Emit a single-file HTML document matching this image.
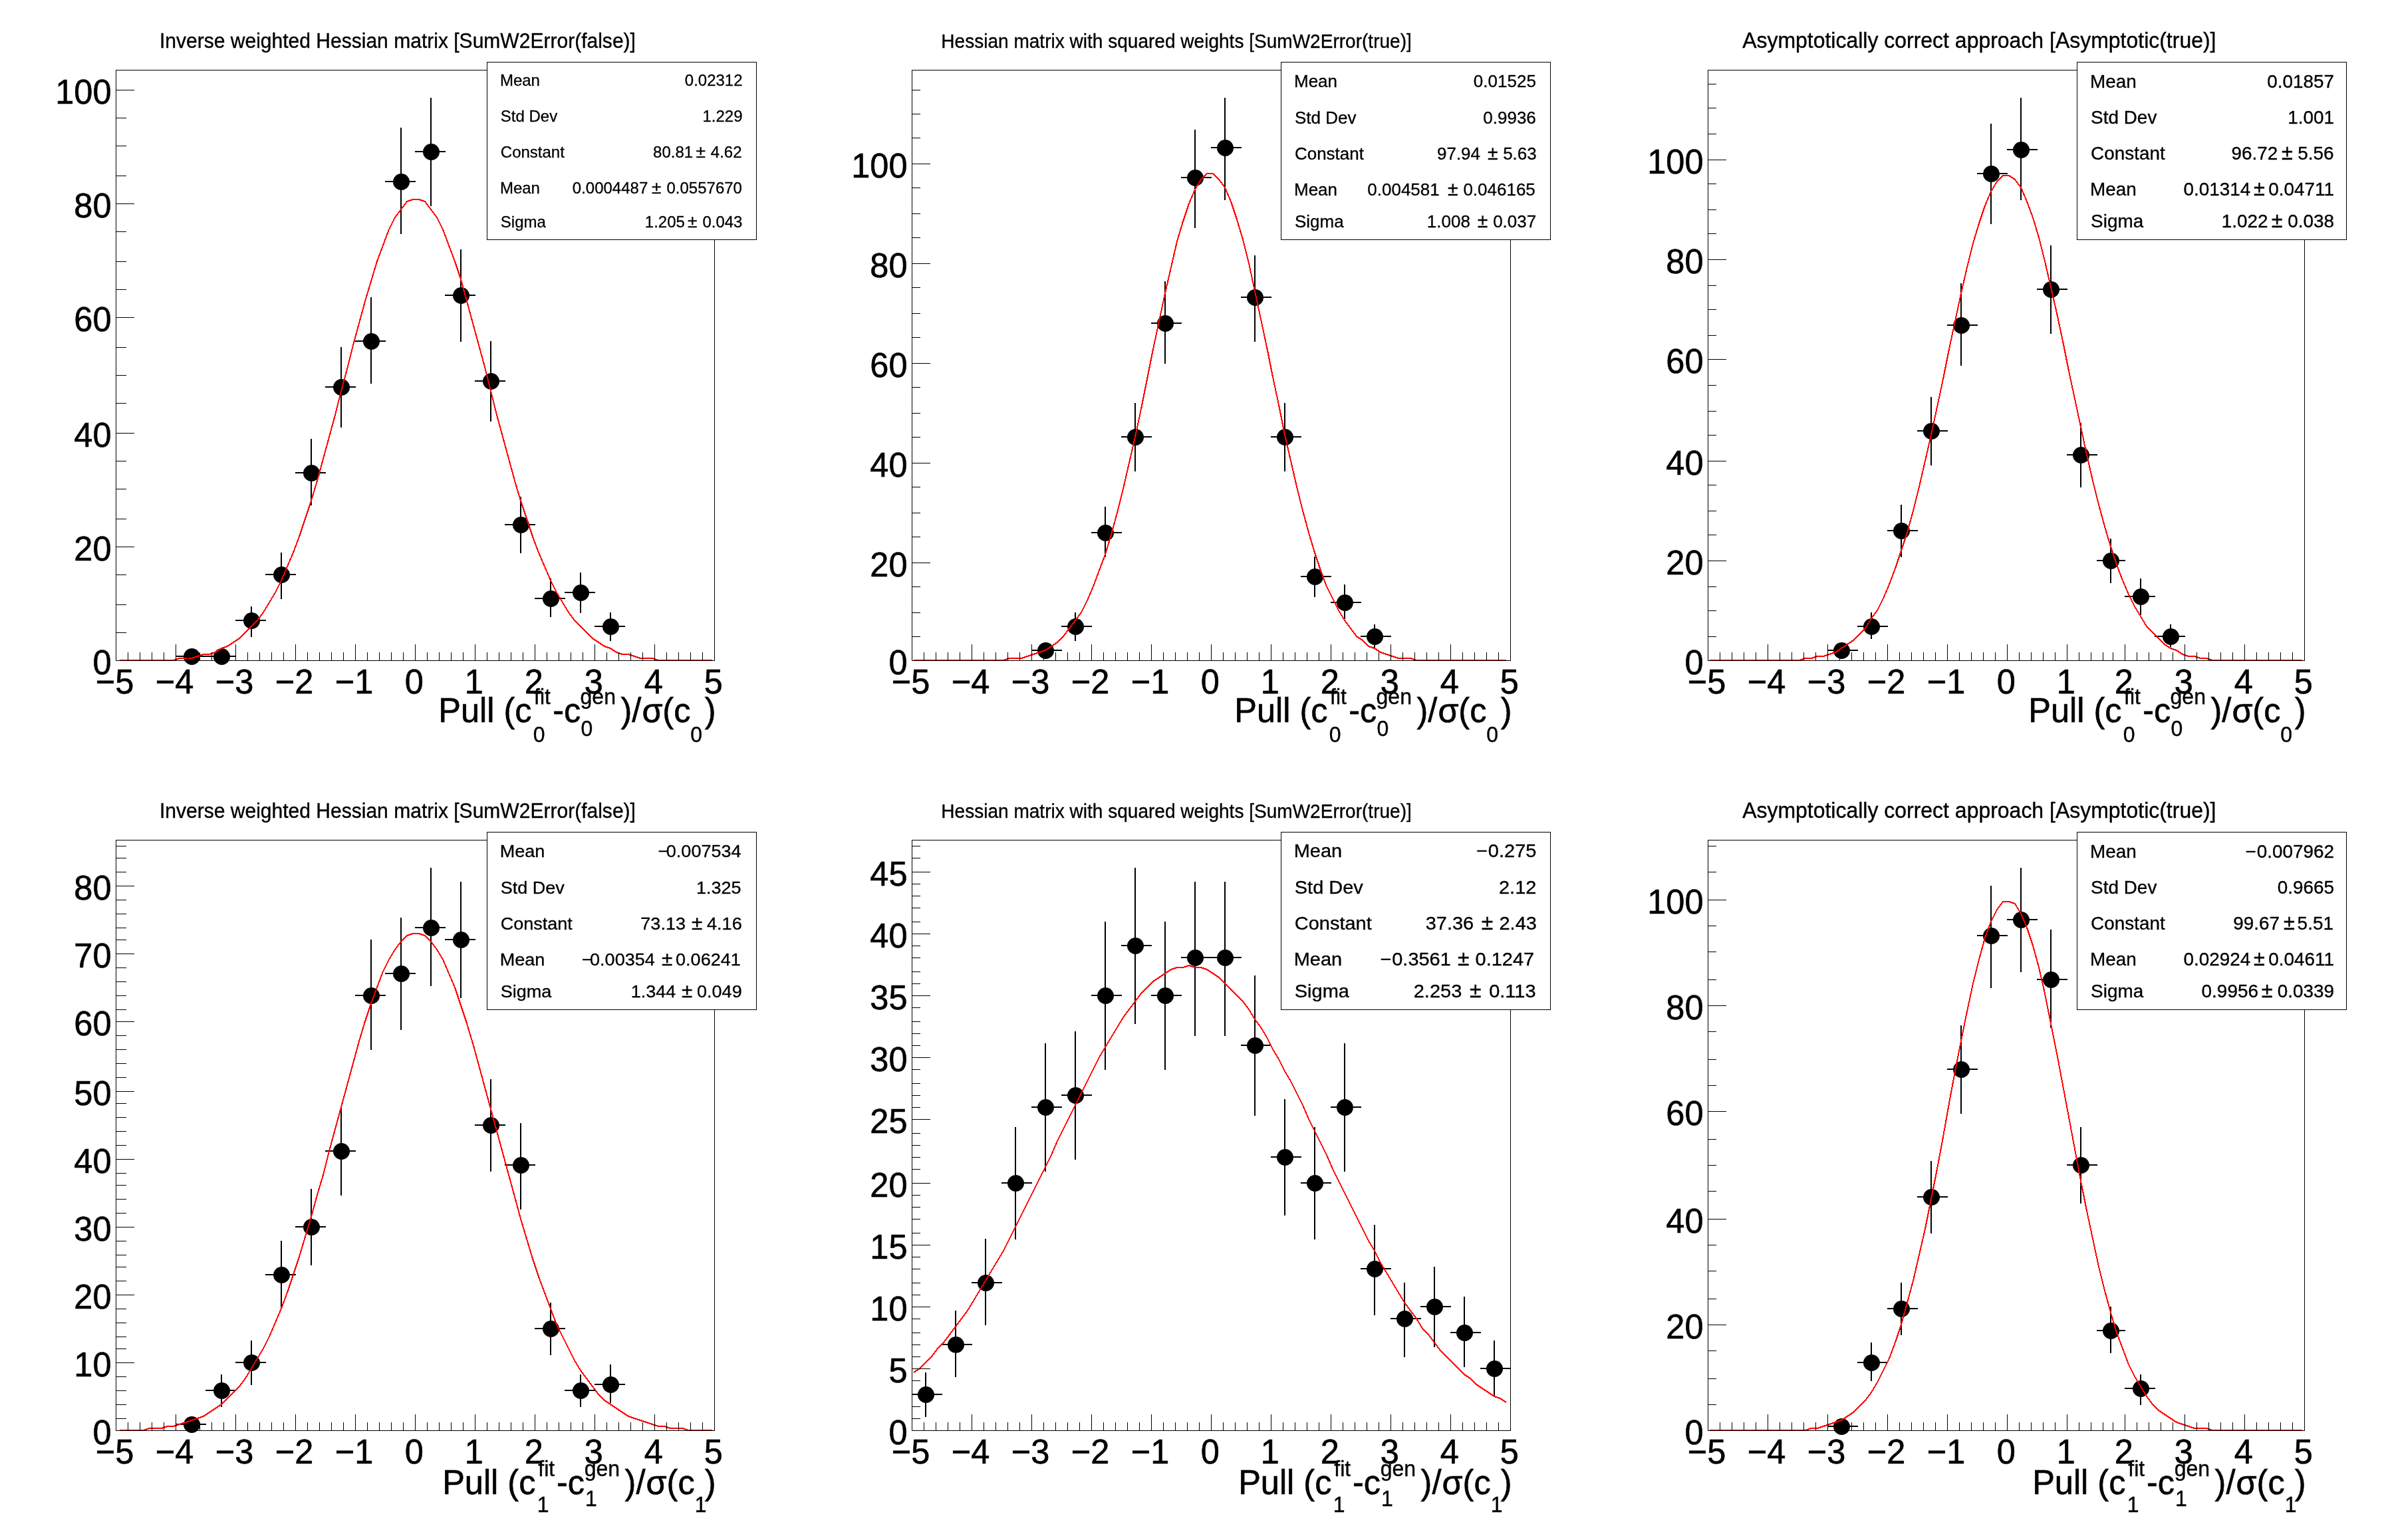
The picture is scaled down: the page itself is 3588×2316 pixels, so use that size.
<!DOCTYPE html>
<html><head><meta charset="utf-8"><title>Pull distributions</title>
<style>
html,body{margin:0;padding:0;background:#fff;}
body{width:3588px;height:2316px;overflow:hidden;}
svg{display:block;will-change:transform;transform:translateZ(0);}
text{font-family:"Liberation Sans", sans-serif;fill:#000;stroke:#000;}
</style></head><body>
<svg xmlns="http://www.w3.org/2000/svg" width="3588" height="2316" viewBox="0 0 3588 2316">
<rect width="3588" height="2316" fill="#fff"/>
<g>
<text transform="translate(172.5 1043.4) scale(1 1.04)" font-size="50.5" stroke-width="0.61" text-anchor="middle">−5</text>
<text transform="translate(262.5 1043.4) scale(1 1.04)" font-size="50.5" stroke-width="0.61" text-anchor="middle">−4</text>
<text transform="translate(352.5 1043.4) scale(1 1.04)" font-size="50.5" stroke-width="0.61" text-anchor="middle">−3</text>
<text transform="translate(442.5 1043.4) scale(1 1.04)" font-size="50.5" stroke-width="0.61" text-anchor="middle">−2</text>
<text transform="translate(532.5 1043.4) scale(1 1.04)" font-size="50.5" stroke-width="0.61" text-anchor="middle">−1</text>
<text transform="translate(622.8 1043.4) scale(1 1.04)" font-size="50.5" stroke-width="0.61" text-anchor="middle">0</text>
<text transform="translate(712.8 1043.4) scale(1 1.04)" font-size="50.5" stroke-width="0.61" text-anchor="middle">1</text>
<text transform="translate(802.8 1043.4) scale(1 1.04)" font-size="50.5" stroke-width="0.61" text-anchor="middle">2</text>
<text transform="translate(892.8 1043.4) scale(1 1.04)" font-size="50.5" stroke-width="0.61" text-anchor="middle">3</text>
<text transform="translate(982.8 1043.4) scale(1 1.04)" font-size="50.5" stroke-width="0.61" text-anchor="middle">4</text>
<text transform="translate(1072.8 1043.4) scale(1 1.04)" font-size="50.5" stroke-width="0.61" text-anchor="middle">5</text>
<text transform="translate(167.5 1014.1) scale(1 1.04)" font-size="50.5" stroke-width="0.61" text-anchor="end">0</text>
<text transform="translate(167.5 843.1) scale(1 1.04)" font-size="50.5" stroke-width="0.61" text-anchor="end">20</text>
<text transform="translate(167.5 672.1) scale(1 1.04)" font-size="50.5" stroke-width="0.61" text-anchor="end">40</text>
<text transform="translate(167.5 498.1) scale(1 1.04)" font-size="50.5" stroke-width="0.61" text-anchor="end">60</text>
<text transform="translate(167.5 327.1) scale(1 1.04)" font-size="50.5" stroke-width="0.61" text-anchor="end">80</text>
<text transform="translate(167.5 156.1) scale(1 1.04)" font-size="50.5" stroke-width="0.61" text-anchor="end">100</text>
<text transform="translate(659.36 1085.6) scale(1 1.04)" font-size="50.5" stroke-width="0.61">Pull (c</text>
<text transform="translate(803.05 1058.7) scale(1 1.04)" font-size="32" stroke-width="0.38">fit</text>
<text transform="translate(801.65 1115.6) scale(1 1.04)" font-size="32" stroke-width="0.38">0</text>
<text transform="translate(831.13 1085.6) scale(1 1.04)" font-size="50.5" stroke-width="0.61">-c</text>
<text transform="translate(872.56 1058.7) scale(1 1.04)" font-size="32" stroke-width="0.38">gen</text>
<text transform="translate(873.55 1106.9) scale(1 1.04)" font-size="32" stroke-width="0.38">0</text>
<text transform="translate(933.49 1085.6) scale(1 1.04)" font-size="50.5" stroke-width="0.61">)/</text>
<text transform="translate(965.58 1085.6) scale(1 1.04)" font-size="50.5" stroke-width="0.61">σ</text>
<text transform="translate(996.37 1085.6) scale(1 1.04)" font-size="50.5" stroke-width="0.61">(c</text>
<text transform="translate(1038.25 1115.6) scale(1 1.04)" font-size="32" stroke-width="0.38">0</text>
<text transform="translate(1059.68 1085.6) scale(1 1.04)" font-size="50.5" stroke-width="0.61">)</text>
<text transform="translate(239.9 71.9) scale(1 1.04)" font-size="30.05" stroke-width="0.36">Inverse weighted Hessian matrix [SumW2Error(false)]</text>
<path d="M264 987H310M288 978V994M309 987H355M333 978V994M354 933H400M378 912V958M399 864H445M423 831V901M444 711H490M468 660V760M489 582H535M513 522V643M534 513H580M558 447V577M579 273H625M603 192V352M624 228H670M648 147V310M669 444H715M693 375V514M714 573H760M738 513V634M759 789H805M783 747V832M804 900H850M828 870V928M849 891H895M873 861V922M894 942H940M918 921V964" stroke="#000" stroke-width="2" fill="none"/>
<circle cx="288.5" cy="987.5" r="12.5"/>
<circle cx="333.5" cy="987.5" r="12.5"/>
<circle cx="378.5" cy="933.5" r="12.5"/>
<circle cx="423.5" cy="864.5" r="12.5"/>
<circle cx="468.5" cy="711.5" r="12.5"/>
<circle cx="513.5" cy="582.5" r="12.5"/>
<circle cx="558.5" cy="513.5" r="12.5"/>
<circle cx="603.5" cy="273.5" r="12.5"/>
<circle cx="648.5" cy="228.5" r="12.5"/>
<circle cx="693.5" cy="444.5" r="12.5"/>
<circle cx="738.5" cy="573.5" r="12.5"/>
<circle cx="783.5" cy="789.5" r="12.5"/>
<circle cx="828.5" cy="900.5" r="12.5"/>
<circle cx="873.5" cy="891.5" r="12.5"/>
<circle cx="918.5" cy="942.5" r="12.5"/>
<polyline points="180,993 189,993 198,993 207,993 216,993 225,993 234,993 243,993 252,993 261,993 270,990 279,990 288,990 297,987 306,984 315,984 324,981 333,975 342,972 351,966 360,960 369,951 378,942 387,933 396,921 405,906 414,891 423,873 432,852 441,831 450,807 459,780 468,753 477,723 486,690 495,657 504,624 513,588 522,555 531,519 540,486 549,453 558,423 567,393 576,369 585,345 594,327 603,315 612,303 621,300 630,300 639,303 648,315 657,327 666,345 675,369 684,393 693,420 702,453 711,486 720,519 729,552 738,588 747,624 756,657 765,690 774,723 783,753 792,780 801,807 810,831 819,852 828,873 837,891 846,906 855,921 864,933 873,942 882,951 891,960 900,966 909,972 918,975 927,981 936,984 945,984 954,987 963,990 972,990 981,990 990,993 999,993 1008,993 1017,993 1026,993 1035,993 1044,993 1053,993 1062,993 1071,993" fill="none" stroke="#f00" stroke-width="2" stroke-linejoin="round" shape-rendering="crispEdges"/>
<rect x="174.5" y="105.5" width="900" height="888" fill="none" stroke="#000" stroke-width="1"/>
<path d="M174.5 969V994M192.5 981V994M210.5 981V994M228.5 981V994M246.5 981V994M264.5 969V994M282.5 981V994M300.5 981V994M318.5 981V994M336.5 981V994M354.5 969V994M372.5 981V994M390.5 981V994M408.5 981V994M426.5 981V994M444.5 969V994M462.5 981V994M480.5 981V994M498.5 981V994M516.5 981V994M534.5 969V994M552.5 981V994M570.5 981V994M588.5 981V994M606.5 981V994M624.5 969V994M642.5 981V994M660.5 981V994M678.5 981V994M696.5 981V994M714.5 969V994M732.5 981V994M750.5 981V994M768.5 981V994M786.5 981V994M804.5 969V994M822.5 981V994M840.5 981V994M858.5 981V994M876.5 981V994M894.5 969V994M912.5 981V994M930.5 981V994M948.5 981V994M966.5 981V994M984.5 969V994M1002.5 981V994M1020.5 981V994M1038.5 981V994M1056.5 981V994M1074.5 969V994" stroke="#000" stroke-width="1" fill="none"/>
<path d="M174 993.5H202M174 951.5H190M174 909.5H190M174 864.5H190M174 822.5H202M174 780.5H190M174 735.5H190M174 693.5H190M174 651.5H202M174 606.5H190M174 564.5H190M174 522.5H190M174 477.5H202M174 435.5H190M174 393.5H190M174 348.5H190M174 306.5H202M174 264.5H190M174 219.5H190M174 177.5H190M174 135.5H202" stroke="#000" stroke-width="1" fill="none"/>
<rect x="732.5" y="93.5" width="405" height="267" fill="#fff" stroke="#000" stroke-width="1"/>
<text transform="translate(751.93 129) scale(1 1.0)" font-size="24" stroke-width="0.29">Mean</text>
<text transform="translate(1116.56 129) scale(1 1.0)" font-size="24" stroke-width="0.29" text-anchor="end">0.02312</text>
<text transform="translate(752.8 182.7) scale(1 1.0)" font-size="24" stroke-width="0.29">Std Dev</text>
<text transform="translate(1116.56 182.7) scale(1 1.0)" font-size="24" stroke-width="0.29" text-anchor="end">1.229</text>
<text transform="translate(752.8 236.7) scale(1 1.0)" font-size="24" stroke-width="0.29">Constant</text>
<text transform="translate(1042.16 236.7) scale(1 1.0)" font-size="24" stroke-width="0.29" text-anchor="end">80.81</text>
<text transform="translate(1053.7 236.7) scale(1 1.0)" font-size="26.4" stroke-width="0.32" text-anchor="middle">±</text>
<text transform="translate(1115.56 236.7) scale(1 1.0)" font-size="24" stroke-width="0.29" text-anchor="end">4.62</text>
<text transform="translate(751.93 291) scale(1 1.0)" font-size="24" stroke-width="0.29">Mean</text>
<text transform="translate(974.26 291) scale(1 1.0)" font-size="24" stroke-width="0.29" text-anchor="end">0.0004487</text>
<text transform="translate(987.2 291) scale(1 1.0)" font-size="26.4" stroke-width="0.32" text-anchor="middle">±</text>
<text transform="translate(1115.96 291) scale(1 1.0)" font-size="24" stroke-width="0.29" text-anchor="end">0.0557670</text>
<text transform="translate(752.8 341.8) scale(1 1.0)" font-size="24" stroke-width="0.29">Sigma</text>
<text transform="translate(1029.86 341.8) scale(1 1.0)" font-size="24" stroke-width="0.29" text-anchor="end">1.205</text>
<text transform="translate(1041.3 341.8) scale(1 1.0)" font-size="26.4" stroke-width="0.32" text-anchor="middle">±</text>
<text transform="translate(1116.46 341.8) scale(1 1.0)" font-size="24" stroke-width="0.29" text-anchor="end">0.043</text>
</g>
<g>
<text transform="translate(1369.5 1043.4) scale(1 1.04)" font-size="50.5" stroke-width="0.61" text-anchor="middle">−5</text>
<text transform="translate(1459.5 1043.4) scale(1 1.04)" font-size="50.5" stroke-width="0.61" text-anchor="middle">−4</text>
<text transform="translate(1549.5 1043.4) scale(1 1.04)" font-size="50.5" stroke-width="0.61" text-anchor="middle">−3</text>
<text transform="translate(1639.5 1043.4) scale(1 1.04)" font-size="50.5" stroke-width="0.61" text-anchor="middle">−2</text>
<text transform="translate(1729.5 1043.4) scale(1 1.04)" font-size="50.5" stroke-width="0.61" text-anchor="middle">−1</text>
<text transform="translate(1819.8 1043.4) scale(1 1.04)" font-size="50.5" stroke-width="0.61" text-anchor="middle">0</text>
<text transform="translate(1909.8 1043.4) scale(1 1.04)" font-size="50.5" stroke-width="0.61" text-anchor="middle">1</text>
<text transform="translate(1999.8 1043.4) scale(1 1.04)" font-size="50.5" stroke-width="0.61" text-anchor="middle">2</text>
<text transform="translate(2089.8 1043.4) scale(1 1.04)" font-size="50.5" stroke-width="0.61" text-anchor="middle">3</text>
<text transform="translate(2179.8 1043.4) scale(1 1.04)" font-size="50.5" stroke-width="0.61" text-anchor="middle">4</text>
<text transform="translate(2269.8 1043.4) scale(1 1.04)" font-size="50.5" stroke-width="0.61" text-anchor="middle">5</text>
<text transform="translate(1364.5 1014.1) scale(1 1.04)" font-size="50.5" stroke-width="0.61" text-anchor="end">0</text>
<text transform="translate(1364.5 867.1) scale(1 1.04)" font-size="50.5" stroke-width="0.61" text-anchor="end">20</text>
<text transform="translate(1364.5 717.1) scale(1 1.04)" font-size="50.5" stroke-width="0.61" text-anchor="end">40</text>
<text transform="translate(1364.5 567.1) scale(1 1.04)" font-size="50.5" stroke-width="0.61" text-anchor="end">60</text>
<text transform="translate(1364.5 417.1) scale(1 1.04)" font-size="50.5" stroke-width="0.61" text-anchor="end">80</text>
<text transform="translate(1364.5 267.1) scale(1 1.04)" font-size="50.5" stroke-width="0.61" text-anchor="end">100</text>
<text transform="translate(1856.36 1085.6) scale(1 1.04)" font-size="50.5" stroke-width="0.61">Pull (c</text>
<text transform="translate(2000.05 1058.7) scale(1 1.04)" font-size="32" stroke-width="0.38">fit</text>
<text transform="translate(1998.65 1115.6) scale(1 1.04)" font-size="32" stroke-width="0.38">0</text>
<text transform="translate(2028.13 1085.6) scale(1 1.04)" font-size="50.5" stroke-width="0.61">-c</text>
<text transform="translate(2069.56 1058.7) scale(1 1.04)" font-size="32" stroke-width="0.38">gen</text>
<text transform="translate(2070.55 1106.9) scale(1 1.04)" font-size="32" stroke-width="0.38">0</text>
<text transform="translate(2130.49 1085.6) scale(1 1.04)" font-size="50.5" stroke-width="0.61">)/</text>
<text transform="translate(2162.58 1085.6) scale(1 1.04)" font-size="50.5" stroke-width="0.61">σ</text>
<text transform="translate(2193.37 1085.6) scale(1 1.04)" font-size="50.5" stroke-width="0.61">(c</text>
<text transform="translate(2235.25 1115.6) scale(1 1.04)" font-size="32" stroke-width="0.38">0</text>
<text transform="translate(2256.68 1085.6) scale(1 1.04)" font-size="50.5" stroke-width="0.61">)</text>
<text transform="translate(1415.3 71.9) scale(1 1.04)" font-size="28.05" stroke-width="0.34">Hessian matrix with squared weights [SumW2Error(true)]</text>
<path d="M1551 978H1597M1572 969V991M1596 942H1642M1617 921V964M1641 801H1687M1662 762V838M1686 657H1732M1707 606V709M1731 486H1777M1752 423V547M1776 267H1822M1797 195V343M1821 222H1867M1842 147V301M1866 447H1912M1887 384V514M1911 657H1957M1932 606V709M1956 867H2002M1977 837V898M2001 906H2047M2022 879V931M2046 957H2092M2067 939V976" stroke="#000" stroke-width="2" fill="none"/>
<circle cx="1572.5" cy="978.5" r="12.5"/>
<circle cx="1617.5" cy="942.5" r="12.5"/>
<circle cx="1662.5" cy="801.5" r="12.5"/>
<circle cx="1707.5" cy="657.5" r="12.5"/>
<circle cx="1752.5" cy="486.5" r="12.5"/>
<circle cx="1797.5" cy="267.5" r="12.5"/>
<circle cx="1842.5" cy="222.5" r="12.5"/>
<circle cx="1887.5" cy="447.5" r="12.5"/>
<circle cx="1932.5" cy="657.5" r="12.5"/>
<circle cx="1977.5" cy="867.5" r="12.5"/>
<circle cx="2022.5" cy="906.5" r="12.5"/>
<circle cx="2067.5" cy="957.5" r="12.5"/>
<polyline points="1374,993 1383,993 1392,993 1401,993 1410,993 1419,993 1428,993 1437,993 1446,993 1455,993 1464,993 1473,993 1482,993 1491,993 1500,993 1509,993 1518,990 1527,990 1536,990 1545,987 1554,984 1563,981 1572,978 1581,972 1590,966 1599,957 1608,945 1617,933 1626,921 1635,903 1644,882 1653,858 1662,834 1671,804 1680,771 1689,735 1698,696 1707,657 1716,615 1725,570 1734,525 1743,483 1752,441 1761,402 1770,363 1779,333 1788,306 1797,285 1806,270 1815,261 1824,261 1833,270 1842,282 1851,303 1860,330 1869,360 1878,396 1887,438 1896,480 1905,522 1914,567 1923,609 1932,654 1941,693 1950,732 1959,768 1968,801 1977,831 1986,858 1995,882 2004,900 2013,918 2022,933 2031,945 2040,957 2049,963 2058,972 2067,975 2076,981 2085,984 2094,987 2103,990 2112,990 2121,990 2130,993 2139,993 2148,993 2157,993 2166,993 2175,993 2184,993 2193,993 2202,993 2211,993 2220,993 2229,993 2238,993 2247,993 2256,993 2265,993" fill="none" stroke="#f00" stroke-width="2" stroke-linejoin="round" shape-rendering="crispEdges"/>
<rect x="1371.5" y="105.5" width="900" height="888" fill="none" stroke="#000" stroke-width="1"/>
<path d="M1371.5 969V994M1389.5 981V994M1407.5 981V994M1425.5 981V994M1443.5 981V994M1461.5 969V994M1479.5 981V994M1497.5 981V994M1515.5 981V994M1533.5 981V994M1551.5 969V994M1569.5 981V994M1587.5 981V994M1605.5 981V994M1623.5 981V994M1641.5 969V994M1659.5 981V994M1677.5 981V994M1695.5 981V994M1713.5 981V994M1731.5 969V994M1749.5 981V994M1767.5 981V994M1785.5 981V994M1803.5 981V994M1821.5 969V994M1839.5 981V994M1857.5 981V994M1875.5 981V994M1893.5 981V994M1911.5 969V994M1929.5 981V994M1947.5 981V994M1965.5 981V994M1983.5 981V994M2001.5 969V994M2019.5 981V994M2037.5 981V994M2055.5 981V994M2073.5 981V994M2091.5 969V994M2109.5 981V994M2127.5 981V994M2145.5 981V994M2163.5 981V994M2181.5 969V994M2199.5 981V994M2217.5 981V994M2235.5 981V994M2253.5 981V994M2271.5 969V994" stroke="#000" stroke-width="1" fill="none"/>
<path d="M1371 993.5H1399M1371 957.5H1384M1371 921.5H1384M1371 882.5H1384M1371 846.5H1399M1371 807.5H1384M1371 771.5H1384M1371 732.5H1384M1371 696.5H1399M1371 657.5H1384M1371 621.5H1384M1371 582.5H1384M1371 546.5H1399M1371 507.5H1384M1371 471.5H1384M1371 432.5H1384M1371 396.5H1399M1371 357.5H1384M1371 321.5H1384M1371 282.5H1384M1371 246.5H1399M1371 207.5H1384M1371 171.5H1384M1371 135.5H1384" stroke="#000" stroke-width="1" fill="none"/>
<rect x="1926.5" y="93.5" width="405" height="267" fill="#fff" stroke="#000" stroke-width="1"/>
<text transform="translate(1945.97 131.2) scale(1 1.0)" font-size="26" stroke-width="0.31">Mean</text>
<text transform="translate(2309.84 131.2) scale(1 1.0)" font-size="26" stroke-width="0.31" text-anchor="end">0.01525</text>
<text transform="translate(1946.9 185.9) scale(1 1.0)" font-size="26" stroke-width="0.31">Std Dev</text>
<text transform="translate(2309.84 185.9) scale(1 1.0)" font-size="26" stroke-width="0.31" text-anchor="end">0.9936</text>
<text transform="translate(1946.9 240.1) scale(1 1.0)" font-size="26" stroke-width="0.31">Constant</text>
<text transform="translate(2226.04 240.1) scale(1 1.0)" font-size="26" stroke-width="0.31" text-anchor="end">97.94</text>
<text transform="translate(2244.8 240.1) scale(1 1.0)" font-size="28.6" stroke-width="0.34" text-anchor="middle">±</text>
<text transform="translate(2310.74 240.1) scale(1 1.0)" font-size="26" stroke-width="0.31" text-anchor="end">5.63</text>
<text transform="translate(1945.97 293.8) scale(1 1.0)" font-size="26" stroke-width="0.31">Mean</text>
<text transform="translate(2164.74 293.8) scale(1 1.0)" font-size="26" stroke-width="0.31" text-anchor="end">0.004581</text>
<text transform="translate(2184.9 293.8) scale(1 1.0)" font-size="28.6" stroke-width="0.34" text-anchor="middle">±</text>
<text transform="translate(2308.84 293.8) scale(1 1.0)" font-size="26" stroke-width="0.31" text-anchor="end">0.046165</text>
<text transform="translate(1946.9 341.8) scale(1 1.0)" font-size="26" stroke-width="0.31">Sigma</text>
<text transform="translate(2210.94 341.8) scale(1 1.0)" font-size="26" stroke-width="0.31" text-anchor="end">1.008</text>
<text transform="translate(2229.6 341.8) scale(1 1.0)" font-size="28.6" stroke-width="0.34" text-anchor="middle">±</text>
<text transform="translate(2310.24 341.8) scale(1 1.0)" font-size="26" stroke-width="0.31" text-anchor="end">0.037</text>
</g>
<g>
<text transform="translate(2566.5 1043.4) scale(1 1.04)" font-size="50.5" stroke-width="0.61" text-anchor="middle">−5</text>
<text transform="translate(2656.5 1043.4) scale(1 1.04)" font-size="50.5" stroke-width="0.61" text-anchor="middle">−4</text>
<text transform="translate(2746.5 1043.4) scale(1 1.04)" font-size="50.5" stroke-width="0.61" text-anchor="middle">−3</text>
<text transform="translate(2836.5 1043.4) scale(1 1.04)" font-size="50.5" stroke-width="0.61" text-anchor="middle">−2</text>
<text transform="translate(2926.5 1043.4) scale(1 1.04)" font-size="50.5" stroke-width="0.61" text-anchor="middle">−1</text>
<text transform="translate(3016.8 1043.4) scale(1 1.04)" font-size="50.5" stroke-width="0.61" text-anchor="middle">0</text>
<text transform="translate(3106.8 1043.4) scale(1 1.04)" font-size="50.5" stroke-width="0.61" text-anchor="middle">1</text>
<text transform="translate(3193.8 1043.4) scale(1 1.04)" font-size="50.5" stroke-width="0.61" text-anchor="middle">2</text>
<text transform="translate(3283.8 1043.4) scale(1 1.04)" font-size="50.5" stroke-width="0.61" text-anchor="middle">3</text>
<text transform="translate(3373.8 1043.4) scale(1 1.04)" font-size="50.5" stroke-width="0.61" text-anchor="middle">4</text>
<text transform="translate(3463.8 1043.4) scale(1 1.04)" font-size="50.5" stroke-width="0.61" text-anchor="middle">5</text>
<text transform="translate(2561.5 1014.1) scale(1 1.04)" font-size="50.5" stroke-width="0.61" text-anchor="end">0</text>
<text transform="translate(2561.5 864.1) scale(1 1.04)" font-size="50.5" stroke-width="0.61" text-anchor="end">20</text>
<text transform="translate(2561.5 714.1) scale(1 1.04)" font-size="50.5" stroke-width="0.61" text-anchor="end">40</text>
<text transform="translate(2561.5 561.1) scale(1 1.04)" font-size="50.5" stroke-width="0.61" text-anchor="end">60</text>
<text transform="translate(2561.5 411.1) scale(1 1.04)" font-size="50.5" stroke-width="0.61" text-anchor="end">80</text>
<text transform="translate(2561.5 261.1) scale(1 1.04)" font-size="50.5" stroke-width="0.61" text-anchor="end">100</text>
<text transform="translate(3050.36 1085.6) scale(1 1.04)" font-size="50.5" stroke-width="0.61">Pull (c</text>
<text transform="translate(3194.05 1058.7) scale(1 1.04)" font-size="32" stroke-width="0.38">fit</text>
<text transform="translate(3192.65 1115.6) scale(1 1.04)" font-size="32" stroke-width="0.38">0</text>
<text transform="translate(3222.13 1085.6) scale(1 1.04)" font-size="50.5" stroke-width="0.61">-c</text>
<text transform="translate(3263.56 1058.7) scale(1 1.04)" font-size="32" stroke-width="0.38">gen</text>
<text transform="translate(3264.55 1106.9) scale(1 1.04)" font-size="32" stroke-width="0.38">0</text>
<text transform="translate(3324.49 1085.6) scale(1 1.04)" font-size="50.5" stroke-width="0.61">)/</text>
<text transform="translate(3356.58 1085.6) scale(1 1.04)" font-size="50.5" stroke-width="0.61">σ</text>
<text transform="translate(3387.37 1085.6) scale(1 1.04)" font-size="50.5" stroke-width="0.61">(c</text>
<text transform="translate(3429.25 1115.6) scale(1 1.04)" font-size="32" stroke-width="0.38">0</text>
<text transform="translate(3450.68 1085.6) scale(1 1.04)" font-size="50.5" stroke-width="0.61">)</text>
<text transform="translate(2620.14 71.9) scale(1 1.04)" font-size="31.97" stroke-width="0.38">Asymptotically correct approach [Asymptotic(true)]</text>
<path d="M2748 978H2794M2769 969V991M2793 942H2839M2814 921V961M2838 798H2884M2859 759V838M2883 648H2929M2904 597V700M2928 489H2974M2949 426V550M2973 261H3019M2994 186V337M3018 225H3064M3039 147V301M3063 435H3109M3084 369V502M3108 684H3154M3129 636V733M3153 843H3196M3174 810V877M3195 897H3241M3219 870V925M3240 957H3286M3264 939V973" stroke="#000" stroke-width="2" fill="none"/>
<circle cx="2769.5" cy="978.5" r="12.5"/>
<circle cx="2814.5" cy="942.5" r="12.5"/>
<circle cx="2859.5" cy="798.5" r="12.5"/>
<circle cx="2904.5" cy="648.5" r="12.5"/>
<circle cx="2949.5" cy="489.5" r="12.5"/>
<circle cx="2994.5" cy="261.5" r="12.5"/>
<circle cx="3039.5" cy="225.5" r="12.5"/>
<circle cx="3084.5" cy="435.5" r="12.5"/>
<circle cx="3129.5" cy="684.5" r="12.5"/>
<circle cx="3174.5" cy="843.5" r="12.5"/>
<circle cx="3219.5" cy="897.5" r="12.5"/>
<circle cx="3264.5" cy="957.5" r="12.5"/>
<polyline points="2571,993 2580,993 2589,993 2598,993 2607,993 2616,993 2625,993 2634,993 2643,993 2652,993 2661,993 2670,993 2679,993 2688,993 2697,993 2706,993 2715,990 2724,990 2733,987 2742,987 2751,984 2760,981 2769,975 2778,969 2787,963 2796,954 2805,945 2814,930 2823,918 2832,900 2841,879 2850,855 2859,828 2868,801 2877,768 2886,732 2895,693 2904,654 2913,612 2922,570 2931,525 2940,483 2949,441 2958,402 2967,366 2976,336 2985,309 2994,288 3003,273 3012,264 3021,264 3030,270 3039,282 3048,303 3057,327 3066,357 3075,393 3084,432 3093,471 3102,513 3111,558 3120,600 3129,642 3138,684 3147,723 3156,759 3165,792 3174,822 3183,849 3192,873 3201,894 3210,912 3219,927 3228,942 3237,951 3246,960 3255,969 3264,975 3273,978 3282,984 3291,987 3300,987 3309,990 3318,990 3327,993 3336,993 3345,993 3354,993 3363,993 3372,993 3381,993 3390,993 3399,993 3408,993 3417,993 3426,993 3435,993 3444,993 3453,993 3462,993" fill="none" stroke="#f00" stroke-width="2" stroke-linejoin="round" shape-rendering="crispEdges"/>
<rect x="2568.5" y="105.5" width="897" height="888" fill="none" stroke="#000" stroke-width="1"/>
<path d="M2568.5 969V994M2586.5 981V994M2604.5 981V994M2622.5 981V994M2640.5 981V994M2658.5 969V994M2676.5 981V994M2694.5 981V994M2712.5 981V994M2730.5 981V994M2748.5 969V994M2766.5 981V994M2784.5 981V994M2802.5 981V994M2820.5 981V994M2838.5 969V994M2856.5 981V994M2874.5 981V994M2892.5 981V994M2910.5 981V994M2928.5 969V994M2946.5 981V994M2964.5 981V994M2982.5 981V994M3000.5 981V994M3018.5 969V994M3036.5 981V994M3054.5 981V994M3072.5 981V994M3090.5 981V994M3108.5 969V994M3126.5 981V994M3144.5 981V994M3162.5 981V994M3177.5 981V994M3195.5 969V994M3213.5 981V994M3231.5 981V994M3249.5 981V994M3267.5 981V994M3285.5 969V994M3303.5 981V994M3321.5 981V994M3339.5 981V994M3357.5 981V994M3375.5 969V994M3393.5 981V994M3411.5 981V994M3429.5 981V994M3447.5 981V994M3465.5 969V994" stroke="#000" stroke-width="1" fill="none"/>
<path d="M2568 993.5H2596M2568 957.5H2581M2568 918.5H2581M2568 882.5H2581M2568 843.5H2596M2568 804.5H2581M2568 768.5H2581M2568 729.5H2581M2568 693.5H2596M2568 654.5H2581M2568 618.5H2581M2568 579.5H2581M2568 540.5H2596M2568 504.5H2581M2568 465.5H2581M2568 429.5H2581M2568 390.5H2596M2568 351.5H2581M2568 315.5H2581M2568 276.5H2581M2568 240.5H2596M2568 201.5H2581M2568 162.5H2581M2568 126.5H2581" stroke="#000" stroke-width="1" fill="none"/>
<rect x="3123.5" y="93.5" width="405" height="267" fill="#fff" stroke="#000" stroke-width="1"/>
<text transform="translate(3143.11 131.8) scale(1 1.0)" font-size="27.9" stroke-width="0.33">Mean</text>
<text transform="translate(3510.02 131.8) scale(1 1.0)" font-size="27.9" stroke-width="0.33" text-anchor="end">0.01857</text>
<text transform="translate(3144.12 186) scale(1 1.0)" font-size="27.9" stroke-width="0.33">Std Dev</text>
<text transform="translate(3510.02 186) scale(1 1.0)" font-size="27.9" stroke-width="0.33" text-anchor="end">1.001</text>
<text transform="translate(3144.12 240.1) scale(1 1.0)" font-size="27.9" stroke-width="0.33">Constant</text>
<text transform="translate(3425.32 240.1) scale(1 1.0)" font-size="27.9" stroke-width="0.33" text-anchor="end">96.72</text>
<text transform="translate(3439.4 240.1) scale(1 1.0)" font-size="30.69" stroke-width="0.37" text-anchor="middle">±</text>
<text transform="translate(3509.52 240.1) scale(1 1.0)" font-size="27.9" stroke-width="0.33" text-anchor="end">5.56</text>
<text transform="translate(3143.11 294.2) scale(1 1.0)" font-size="27.9" stroke-width="0.33">Mean</text>
<text transform="translate(3384.22 294.2) scale(1 1.0)" font-size="27.9" stroke-width="0.33" text-anchor="end">0.01314</text>
<text transform="translate(3397.4 294.2) scale(1 1.0)" font-size="30.69" stroke-width="0.37" text-anchor="middle">±</text>
<text transform="translate(3510.02 294.2) scale(1 1.0)" font-size="27.9" stroke-width="0.33" text-anchor="end">0.04711</text>
<text transform="translate(3144.12 342.2) scale(1 1.0)" font-size="27.9" stroke-width="0.33">Sigma</text>
<text transform="translate(3410.62 342.2) scale(1 1.0)" font-size="27.9" stroke-width="0.33" text-anchor="end">1.022</text>
<text transform="translate(3424.1 342.2) scale(1 1.0)" font-size="30.69" stroke-width="0.37" text-anchor="middle">±</text>
<text transform="translate(3510.02 342.2) scale(1 1.0)" font-size="27.9" stroke-width="0.33" text-anchor="end">0.038</text>
</g>
<g>
<text transform="translate(172.5 2201.4) scale(1 1.04)" font-size="50.5" stroke-width="0.61" text-anchor="middle">−5</text>
<text transform="translate(262.5 2201.4) scale(1 1.04)" font-size="50.5" stroke-width="0.61" text-anchor="middle">−4</text>
<text transform="translate(352.5 2201.4) scale(1 1.04)" font-size="50.5" stroke-width="0.61" text-anchor="middle">−3</text>
<text transform="translate(442.5 2201.4) scale(1 1.04)" font-size="50.5" stroke-width="0.61" text-anchor="middle">−2</text>
<text transform="translate(532.5 2201.4) scale(1 1.04)" font-size="50.5" stroke-width="0.61" text-anchor="middle">−1</text>
<text transform="translate(622.8 2201.4) scale(1 1.04)" font-size="50.5" stroke-width="0.61" text-anchor="middle">0</text>
<text transform="translate(712.8 2201.4) scale(1 1.04)" font-size="50.5" stroke-width="0.61" text-anchor="middle">1</text>
<text transform="translate(802.8 2201.4) scale(1 1.04)" font-size="50.5" stroke-width="0.61" text-anchor="middle">2</text>
<text transform="translate(892.8 2201.4) scale(1 1.04)" font-size="50.5" stroke-width="0.61" text-anchor="middle">3</text>
<text transform="translate(982.8 2201.4) scale(1 1.04)" font-size="50.5" stroke-width="0.61" text-anchor="middle">4</text>
<text transform="translate(1072.8 2201.4) scale(1 1.04)" font-size="50.5" stroke-width="0.61" text-anchor="middle">5</text>
<text transform="translate(167.5 2172.1) scale(1 1.04)" font-size="50.5" stroke-width="0.61" text-anchor="end">0</text>
<text transform="translate(167.5 2070.1) scale(1 1.04)" font-size="50.5" stroke-width="0.61" text-anchor="end">10</text>
<text transform="translate(167.5 1968.1) scale(1 1.04)" font-size="50.5" stroke-width="0.61" text-anchor="end">20</text>
<text transform="translate(167.5 1866.1) scale(1 1.04)" font-size="50.5" stroke-width="0.61" text-anchor="end">30</text>
<text transform="translate(167.5 1764.1) scale(1 1.04)" font-size="50.5" stroke-width="0.61" text-anchor="end">40</text>
<text transform="translate(167.5 1662.1) scale(1 1.04)" font-size="50.5" stroke-width="0.61" text-anchor="end">50</text>
<text transform="translate(167.5 1557.1) scale(1 1.04)" font-size="50.5" stroke-width="0.61" text-anchor="end">60</text>
<text transform="translate(167.5 1455.1) scale(1 1.04)" font-size="50.5" stroke-width="0.61" text-anchor="end">70</text>
<text transform="translate(167.5 1353.1) scale(1 1.04)" font-size="50.5" stroke-width="0.61" text-anchor="end">80</text>
<text transform="translate(665.16 2246.9) scale(1 1.04)" font-size="50.5" stroke-width="0.61">Pull (c</text>
<text transform="translate(809.25 2219.9) scale(1 1.04)" font-size="32" stroke-width="0.38">fit</text>
<text transform="translate(807.71 2273.9) scale(1 1.04)" font-size="32" stroke-width="0.38">1</text>
<text transform="translate(836.93 2246.9) scale(1 1.04)" font-size="50.5" stroke-width="0.61">-c</text>
<text transform="translate(878.66 2219.9) scale(1 1.04)" font-size="32" stroke-width="0.38">gen</text>
<text transform="translate(880.01 2264.7) scale(1 1.04)" font-size="32" stroke-width="0.38">1</text>
<text transform="translate(939.59 2246.9) scale(1 1.04)" font-size="50.5" stroke-width="0.61">)/</text>
<text transform="translate(971.38 2246.9) scale(1 1.04)" font-size="50.5" stroke-width="0.61">σ</text>
<text transform="translate(1002.57 2246.9) scale(1 1.04)" font-size="50.5" stroke-width="0.61">(c</text>
<text transform="translate(1044.81 2273.9) scale(1 1.04)" font-size="32" stroke-width="0.38">1</text>
<text transform="translate(1059.68 2246.9) scale(1 1.04)" font-size="50.5" stroke-width="0.61">)</text>
<text transform="translate(239.9 1229.9) scale(1 1.04)" font-size="30.05" stroke-width="0.36">Inverse weighted Hessian matrix [SumW2Error(false)]</text>
<path d="M264 2142H310M288 2133V2152M309 2091H355M333 2067V2116M354 2049H400M378 2016V2083M399 1917H445M423 1866V1966M444 1845H490M468 1788V1903M489 1731H535M513 1665V1798M534 1497H580M558 1413V1579M579 1464H625M603 1380V1549M624 1395H670M648 1305V1483M669 1413H715M693 1326V1501M714 1692H760M738 1623V1762M759 1752H805M783 1689V1819M804 1998H850M828 1959V2038M849 2091H895M873 2067V2116M894 2082H940M918 2052V2110" stroke="#000" stroke-width="2" fill="none"/>
<circle cx="288.5" cy="2142.5" r="12.5"/>
<circle cx="333.5" cy="2091.5" r="12.5"/>
<circle cx="378.5" cy="2049.5" r="12.5"/>
<circle cx="423.5" cy="1917.5" r="12.5"/>
<circle cx="468.5" cy="1845.5" r="12.5"/>
<circle cx="513.5" cy="1731.5" r="12.5"/>
<circle cx="558.5" cy="1497.5" r="12.5"/>
<circle cx="603.5" cy="1464.5" r="12.5"/>
<circle cx="648.5" cy="1395.5" r="12.5"/>
<circle cx="693.5" cy="1413.5" r="12.5"/>
<circle cx="738.5" cy="1692.5" r="12.5"/>
<circle cx="783.5" cy="1752.5" r="12.5"/>
<circle cx="828.5" cy="1998.5" r="12.5"/>
<circle cx="873.5" cy="2091.5" r="12.5"/>
<circle cx="918.5" cy="2082.5" r="12.5"/>
<polyline points="180,2151 189,2151 198,2151 207,2151 216,2151 225,2148 234,2148 243,2148 252,2145 261,2145 270,2142 279,2139 288,2136 297,2133 306,2130 315,2124 324,2118 333,2112 342,2103 351,2094 360,2085 369,2073 378,2058 387,2043 396,2028 405,2010 414,1989 423,1968 432,1944 441,1917 450,1890 459,1860 468,1830 477,1797 486,1767 495,1731 504,1698 513,1665 522,1632 531,1599 540,1566 549,1536 558,1509 567,1485 576,1461 585,1443 594,1428 603,1416 612,1407 621,1404 630,1404 639,1407 648,1416 657,1428 666,1443 675,1464 684,1485 693,1512 702,1539 711,1569 720,1602 729,1635 738,1668 747,1701 756,1734 765,1767 774,1800 783,1833 792,1863 801,1893 810,1920 819,1944 828,1968 837,1992 846,2010 855,2028 864,2046 873,2061 882,2073 891,2085 900,2097 909,2106 918,2112 927,2118 936,2124 945,2130 954,2133 963,2136 972,2139 981,2142 990,2145 999,2145 1008,2148 1017,2148 1026,2148 1035,2151 1044,2151 1053,2151 1062,2151 1071,2151" fill="none" stroke="#f00" stroke-width="2" stroke-linejoin="round" shape-rendering="crispEdges"/>
<rect x="174.5" y="1263.5" width="900" height="888" fill="none" stroke="#000" stroke-width="1"/>
<path d="M174.5 2127V2152M192.5 2139V2152M210.5 2139V2152M228.5 2139V2152M246.5 2139V2152M264.5 2127V2152M282.5 2139V2152M300.5 2139V2152M318.5 2139V2152M336.5 2139V2152M354.5 2127V2152M372.5 2139V2152M390.5 2139V2152M408.5 2139V2152M426.5 2139V2152M444.5 2127V2152M462.5 2139V2152M480.5 2139V2152M498.5 2139V2152M516.5 2139V2152M534.5 2127V2152M552.5 2139V2152M570.5 2139V2152M588.5 2139V2152M606.5 2139V2152M624.5 2127V2152M642.5 2139V2152M660.5 2139V2152M678.5 2139V2152M696.5 2139V2152M714.5 2127V2152M732.5 2139V2152M750.5 2139V2152M768.5 2139V2152M786.5 2139V2152M804.5 2127V2152M822.5 2139V2152M840.5 2139V2152M858.5 2139V2152M876.5 2139V2152M894.5 2127V2152M912.5 2139V2152M930.5 2139V2152M948.5 2139V2152M966.5 2139V2152M984.5 2127V2152M1002.5 2139V2152M1020.5 2139V2152M1038.5 2139V2152M1056.5 2139V2152M1074.5 2127V2152" stroke="#000" stroke-width="1" fill="none"/>
<path d="M174 2151.5H202M174 2133.5H190M174 2112.5H190M174 2091.5H190M174 2070.5H190M174 2049.5H202M174 2028.5H190M174 2010.5H190M174 1989.5H190M174 1968.5H190M174 1947.5H202M174 1926.5H190M174 1905.5H190M174 1887.5H190M174 1866.5H190M174 1845.5H202M174 1824.5H190M174 1803.5H190M174 1782.5H190M174 1764.5H190M174 1743.5H202M174 1722.5H190M174 1701.5H190M174 1680.5H190M174 1659.5H190M174 1641.5H202M174 1620.5H190M174 1599.5H190M174 1578.5H190M174 1557.5H190M174 1536.5H202M174 1518.5H190M174 1497.5H190M174 1476.5H190M174 1455.5H190M174 1434.5H202M174 1413.5H190M174 1395.5H190M174 1374.5H190M174 1353.5H190M174 1332.5H202M174 1311.5H190M174 1290.5H190M174 1272.5H190" stroke="#000" stroke-width="1" fill="none"/>
<rect x="732.5" y="1251.5" width="405" height="267" fill="#fff" stroke="#000" stroke-width="1"/>
<text transform="translate(751.68 1289.2) scale(1 0.96)" font-size="27.05" stroke-width="0.32">Mean</text>
<text transform="translate(1114.58 1289.2) scale(1 0.96)" font-size="27.05" stroke-width="0.32" text-anchor="end">−<tspan dx="-3.52">0.007534</tspan></text>
<text transform="translate(752.66 1343.9) scale(1 0.96)" font-size="27.05" stroke-width="0.32">Std Dev</text>
<text transform="translate(1114.58 1343.9) scale(1 0.96)" font-size="27.05" stroke-width="0.32" text-anchor="end">1.325</text>
<text transform="translate(752.66 1398.1) scale(1 0.96)" font-size="27.05" stroke-width="0.32">Constant</text>
<text transform="translate(1030.98 1398.1) scale(1 0.96)" font-size="27.05" stroke-width="0.32" text-anchor="end">73.13</text>
<text transform="translate(1048.2 1398.1) scale(1 0.96)" font-size="29.76" stroke-width="0.36" text-anchor="middle">±</text>
<text transform="translate(1115.68 1398.1) scale(1 0.96)" font-size="27.05" stroke-width="0.32" text-anchor="end">4.16</text>
<text transform="translate(751.68 1451.8) scale(1 0.96)" font-size="27.05" stroke-width="0.32">Mean</text>
<text transform="translate(984.78 1451.8) scale(1 0.96)" font-size="27.05" stroke-width="0.32" text-anchor="end">−<tspan dx="-3.52">0.00354</tspan></text>
<text transform="translate(1003.2 1451.8) scale(1 0.96)" font-size="29.76" stroke-width="0.36" text-anchor="middle">±</text>
<text transform="translate(1113.78 1451.8) scale(1 0.96)" font-size="27.05" stroke-width="0.32" text-anchor="end">0.06241</text>
<text transform="translate(752.66 1499.8) scale(1 0.96)" font-size="27.05" stroke-width="0.32">Sigma</text>
<text transform="translate(1016.38 1499.8) scale(1 0.96)" font-size="27.05" stroke-width="0.32" text-anchor="end">1.344</text>
<text transform="translate(1033.1 1499.8) scale(1 0.96)" font-size="29.76" stroke-width="0.36" text-anchor="middle">±</text>
<text transform="translate(1115.68 1499.8) scale(1 0.96)" font-size="27.05" stroke-width="0.32" text-anchor="end">0.049</text>
</g>
<g>
<text transform="translate(1369.5 2201.4) scale(1 1.04)" font-size="50.5" stroke-width="0.61" text-anchor="middle">−5</text>
<text transform="translate(1459.5 2201.4) scale(1 1.04)" font-size="50.5" stroke-width="0.61" text-anchor="middle">−4</text>
<text transform="translate(1549.5 2201.4) scale(1 1.04)" font-size="50.5" stroke-width="0.61" text-anchor="middle">−3</text>
<text transform="translate(1639.5 2201.4) scale(1 1.04)" font-size="50.5" stroke-width="0.61" text-anchor="middle">−2</text>
<text transform="translate(1729.5 2201.4) scale(1 1.04)" font-size="50.5" stroke-width="0.61" text-anchor="middle">−1</text>
<text transform="translate(1819.8 2201.4) scale(1 1.04)" font-size="50.5" stroke-width="0.61" text-anchor="middle">0</text>
<text transform="translate(1909.8 2201.4) scale(1 1.04)" font-size="50.5" stroke-width="0.61" text-anchor="middle">1</text>
<text transform="translate(1999.8 2201.4) scale(1 1.04)" font-size="50.5" stroke-width="0.61" text-anchor="middle">2</text>
<text transform="translate(2089.8 2201.4) scale(1 1.04)" font-size="50.5" stroke-width="0.61" text-anchor="middle">3</text>
<text transform="translate(2179.8 2201.4) scale(1 1.04)" font-size="50.5" stroke-width="0.61" text-anchor="middle">4</text>
<text transform="translate(2269.8 2201.4) scale(1 1.04)" font-size="50.5" stroke-width="0.61" text-anchor="middle">5</text>
<text transform="translate(1364.5 2172.1) scale(1 1.04)" font-size="50.5" stroke-width="0.61" text-anchor="end">0</text>
<text transform="translate(1364.5 2079.1) scale(1 1.04)" font-size="50.5" stroke-width="0.61" text-anchor="end">5</text>
<text transform="translate(1364.5 1986.1) scale(1 1.04)" font-size="50.5" stroke-width="0.61" text-anchor="end">10</text>
<text transform="translate(1364.5 1893.1) scale(1 1.04)" font-size="50.5" stroke-width="0.61" text-anchor="end">15</text>
<text transform="translate(1364.5 1800.1) scale(1 1.04)" font-size="50.5" stroke-width="0.61" text-anchor="end">20</text>
<text transform="translate(1364.5 1704.1) scale(1 1.04)" font-size="50.5" stroke-width="0.61" text-anchor="end">25</text>
<text transform="translate(1364.5 1611.1) scale(1 1.04)" font-size="50.5" stroke-width="0.61" text-anchor="end">30</text>
<text transform="translate(1364.5 1518.1) scale(1 1.04)" font-size="50.5" stroke-width="0.61" text-anchor="end">35</text>
<text transform="translate(1364.5 1425.1) scale(1 1.04)" font-size="50.5" stroke-width="0.61" text-anchor="end">40</text>
<text transform="translate(1364.5 1332.1) scale(1 1.04)" font-size="50.5" stroke-width="0.61" text-anchor="end">45</text>
<text transform="translate(1862.16 2246.9) scale(1 1.04)" font-size="50.5" stroke-width="0.61">Pull (c</text>
<text transform="translate(2006.25 2219.9) scale(1 1.04)" font-size="32" stroke-width="0.38">fit</text>
<text transform="translate(2004.71 2273.9) scale(1 1.04)" font-size="32" stroke-width="0.38">1</text>
<text transform="translate(2033.93 2246.9) scale(1 1.04)" font-size="50.5" stroke-width="0.61">-c</text>
<text transform="translate(2075.66 2219.9) scale(1 1.04)" font-size="32" stroke-width="0.38">gen</text>
<text transform="translate(2077.01 2264.7) scale(1 1.04)" font-size="32" stroke-width="0.38">1</text>
<text transform="translate(2136.59 2246.9) scale(1 1.04)" font-size="50.5" stroke-width="0.61">)/</text>
<text transform="translate(2168.38 2246.9) scale(1 1.04)" font-size="50.5" stroke-width="0.61">σ</text>
<text transform="translate(2199.57 2246.9) scale(1 1.04)" font-size="50.5" stroke-width="0.61">(c</text>
<text transform="translate(2241.81 2273.9) scale(1 1.04)" font-size="32" stroke-width="0.38">1</text>
<text transform="translate(2256.68 2246.9) scale(1 1.04)" font-size="50.5" stroke-width="0.61">)</text>
<text transform="translate(1415.3 1229.9) scale(1 1.04)" font-size="28.05" stroke-width="0.34">Hessian matrix with squared weights [SumW2Error(true)]</text>
<path d="M1371 2097H1417M1392 2064V2131M1416 2022H1462M1437 1971V2071M1461 1929H1507M1482 1863V1993M1506 1779H1552M1527 1695V1864M1551 1665H1597M1572 1569V1762M1596 1647H1642M1617 1551V1744M1641 1497H1687M1662 1386V1609M1686 1422H1732M1707 1305V1540M1731 1497H1777M1752 1386V1609M1776 1440H1822M1797 1326V1558M1821 1440H1867M1842 1326V1558M1866 1572H1912M1887 1467V1678M1911 1740H1957M1932 1653V1828M1956 1779H2002M1977 1695V1864M2001 1665H2047M2022 1569V1762M2046 1908H2092M2067 1842V1978M2091 1983H2137M2112 1929V2041M2136 1965H2182M2157 1905V2026M2181 2004H2227M2202 1950V2056M2226 2058H2272M2247 2016V2101" stroke="#000" stroke-width="2" fill="none"/>
<circle cx="1392.5" cy="2097.5" r="12.5"/>
<circle cx="1437.5" cy="2022.5" r="12.5"/>
<circle cx="1482.5" cy="1929.5" r="12.5"/>
<circle cx="1527.5" cy="1779.5" r="12.5"/>
<circle cx="1572.5" cy="1665.5" r="12.5"/>
<circle cx="1617.5" cy="1647.5" r="12.5"/>
<circle cx="1662.5" cy="1497.5" r="12.5"/>
<circle cx="1707.5" cy="1422.5" r="12.5"/>
<circle cx="1752.5" cy="1497.5" r="12.5"/>
<circle cx="1797.5" cy="1440.5" r="12.5"/>
<circle cx="1842.5" cy="1440.5" r="12.5"/>
<circle cx="1887.5" cy="1572.5" r="12.5"/>
<circle cx="1932.5" cy="1740.5" r="12.5"/>
<circle cx="1977.5" cy="1779.5" r="12.5"/>
<circle cx="2022.5" cy="1665.5" r="12.5"/>
<circle cx="2067.5" cy="1908.5" r="12.5"/>
<circle cx="2112.5" cy="1983.5" r="12.5"/>
<circle cx="2157.5" cy="1965.5" r="12.5"/>
<circle cx="2202.5" cy="2004.5" r="12.5"/>
<circle cx="2247.5" cy="2058.5" r="12.5"/>
<polyline points="1374,2064 1383,2058 1392,2049 1401,2040 1410,2028 1419,2019 1428,2007 1437,1995 1446,1983 1455,1971 1464,1956 1473,1941 1482,1926 1491,1911 1500,1896 1509,1881 1518,1863 1527,1845 1536,1827 1545,1809 1554,1791 1563,1773 1572,1755 1581,1737 1590,1716 1599,1698 1608,1680 1617,1662 1626,1644 1635,1626 1644,1608 1653,1590 1662,1575 1671,1560 1680,1545 1689,1530 1698,1518 1707,1506 1716,1494 1725,1485 1734,1476 1743,1470 1752,1464 1761,1458 1770,1455 1779,1455 1788,1452 1797,1455 1806,1455 1815,1458 1824,1464 1833,1470 1842,1479 1851,1488 1860,1497 1869,1506 1878,1518 1887,1533 1896,1545 1905,1560 1914,1578 1923,1593 1932,1611 1941,1626 1950,1644 1959,1662 1968,1683 1977,1701 1986,1719 1995,1737 2004,1758 2013,1776 2022,1794 2031,1812 2040,1830 2049,1848 2058,1866 2067,1881 2076,1899 2085,1914 2094,1929 2103,1944 2112,1959 2121,1971 2130,1983 2139,1998 2148,2007 2157,2019 2166,2031 2175,2040 2184,2049 2193,2058 2202,2067 2211,2073 2220,2082 2229,2088 2238,2094 2247,2100 2256,2103 2265,2109" fill="none" stroke="#f00" stroke-width="2" stroke-linejoin="round" shape-rendering="crispEdges"/>
<rect x="1371.5" y="1263.5" width="900" height="888" fill="none" stroke="#000" stroke-width="1"/>
<path d="M1371.5 2127V2152M1389.5 2139V2152M1407.5 2139V2152M1425.5 2139V2152M1443.5 2139V2152M1461.5 2127V2152M1479.5 2139V2152M1497.5 2139V2152M1515.5 2139V2152M1533.5 2139V2152M1551.5 2127V2152M1569.5 2139V2152M1587.5 2139V2152M1605.5 2139V2152M1623.5 2139V2152M1641.5 2127V2152M1659.5 2139V2152M1677.5 2139V2152M1695.5 2139V2152M1713.5 2139V2152M1731.5 2127V2152M1749.5 2139V2152M1767.5 2139V2152M1785.5 2139V2152M1803.5 2139V2152M1821.5 2127V2152M1839.5 2139V2152M1857.5 2139V2152M1875.5 2139V2152M1893.5 2139V2152M1911.5 2127V2152M1929.5 2139V2152M1947.5 2139V2152M1965.5 2139V2152M1983.5 2139V2152M2001.5 2127V2152M2019.5 2139V2152M2037.5 2139V2152M2055.5 2139V2152M2073.5 2139V2152M2091.5 2127V2152M2109.5 2139V2152M2127.5 2139V2152M2145.5 2139V2152M2163.5 2139V2152M2181.5 2127V2152M2199.5 2139V2152M2217.5 2139V2152M2235.5 2139V2152M2253.5 2139V2152M2271.5 2127V2152" stroke="#000" stroke-width="1" fill="none"/>
<path d="M1371 2151.5H1399M1371 2133.5H1384M1371 2115.5H1384M1371 2097.5H1384M1371 2076.5H1384M1371 2058.5H1399M1371 2040.5H1384M1371 2022.5H1384M1371 2004.5H1384M1371 1983.5H1384M1371 1965.5H1399M1371 1947.5H1384M1371 1929.5H1384M1371 1908.5H1384M1371 1890.5H1384M1371 1872.5H1399M1371 1854.5H1384M1371 1833.5H1384M1371 1815.5H1384M1371 1797.5H1384M1371 1779.5H1399M1371 1758.5H1384M1371 1740.5H1384M1371 1722.5H1384M1371 1704.5H1384M1371 1683.5H1399M1371 1665.5H1384M1371 1647.5H1384M1371 1629.5H1384M1371 1608.5H1384M1371 1590.5H1399M1371 1572.5H1384M1371 1554.5H1384M1371 1536.5H1384M1371 1515.5H1384M1371 1497.5H1399M1371 1479.5H1384M1371 1461.5H1384M1371 1440.5H1384M1371 1422.5H1384M1371 1404.5H1399M1371 1386.5H1384M1371 1365.5H1384M1371 1347.5H1384M1371 1329.5H1384M1371 1311.5H1399M1371 1290.5H1384M1371 1272.5H1384" stroke="#000" stroke-width="1" fill="none"/>
<rect x="1926.5" y="1251.5" width="405" height="267" fill="#fff" stroke="#000" stroke-width="1"/>
<text transform="translate(1945.72 1289.4) scale(1 0.97)" font-size="29" stroke-width="0.35">Mean</text>
<text transform="translate(2310.36 1289.4) scale(1 0.97)" font-size="29" stroke-width="0.35" text-anchor="end">−<tspan dx="0.87">0.275</tspan></text>
<text transform="translate(1946.77 1344) scale(1 0.97)" font-size="29" stroke-width="0.35">Std Dev</text>
<text transform="translate(2310.36 1344) scale(1 0.97)" font-size="29" stroke-width="0.35" text-anchor="end">2.12</text>
<text transform="translate(1946.77 1398.1) scale(1 0.97)" font-size="29" stroke-width="0.35">Constant</text>
<text transform="translate(2216.16 1398.1) scale(1 0.97)" font-size="29" stroke-width="0.35" text-anchor="end">37.36</text>
<text transform="translate(2236.6 1398.1) scale(1 0.97)" font-size="31.9" stroke-width="0.38" text-anchor="middle">±</text>
<text transform="translate(2310.86 1398.1) scale(1 0.97)" font-size="29" stroke-width="0.35" text-anchor="end">2.43</text>
<text transform="translate(1945.72 1452.2) scale(1 0.97)" font-size="29" stroke-width="0.35">Mean</text>
<text transform="translate(2181.86 1452.2) scale(1 0.97)" font-size="29" stroke-width="0.35" text-anchor="end">−<tspan dx="0.87">0.3561</tspan></text>
<text transform="translate(2200.8 1452.2) scale(1 0.97)" font-size="31.9" stroke-width="0.38" text-anchor="middle">±</text>
<text transform="translate(2307.16 1452.2) scale(1 0.97)" font-size="29" stroke-width="0.35" text-anchor="end">0.1247</text>
<text transform="translate(1946.77 1500.4) scale(1 0.97)" font-size="29" stroke-width="0.35">Sigma</text>
<text transform="translate(2198.26 1500.4) scale(1 0.97)" font-size="29" stroke-width="0.35" text-anchor="end">2.253</text>
<text transform="translate(2218.7 1500.4) scale(1 0.97)" font-size="31.9" stroke-width="0.38" text-anchor="middle">±</text>
<text transform="translate(2309.56 1500.4) scale(1 0.97)" font-size="29" stroke-width="0.35" text-anchor="end">0.113</text>
</g>
<g>
<text transform="translate(2566.5 2201.4) scale(1 1.04)" font-size="50.5" stroke-width="0.61" text-anchor="middle">−5</text>
<text transform="translate(2656.5 2201.4) scale(1 1.04)" font-size="50.5" stroke-width="0.61" text-anchor="middle">−4</text>
<text transform="translate(2746.5 2201.4) scale(1 1.04)" font-size="50.5" stroke-width="0.61" text-anchor="middle">−3</text>
<text transform="translate(2836.5 2201.4) scale(1 1.04)" font-size="50.5" stroke-width="0.61" text-anchor="middle">−2</text>
<text transform="translate(2926.5 2201.4) scale(1 1.04)" font-size="50.5" stroke-width="0.61" text-anchor="middle">−1</text>
<text transform="translate(3016.8 2201.4) scale(1 1.04)" font-size="50.5" stroke-width="0.61" text-anchor="middle">0</text>
<text transform="translate(3106.8 2201.4) scale(1 1.04)" font-size="50.5" stroke-width="0.61" text-anchor="middle">1</text>
<text transform="translate(3193.8 2201.4) scale(1 1.04)" font-size="50.5" stroke-width="0.61" text-anchor="middle">2</text>
<text transform="translate(3283.8 2201.4) scale(1 1.04)" font-size="50.5" stroke-width="0.61" text-anchor="middle">3</text>
<text transform="translate(3373.8 2201.4) scale(1 1.04)" font-size="50.5" stroke-width="0.61" text-anchor="middle">4</text>
<text transform="translate(3463.8 2201.4) scale(1 1.04)" font-size="50.5" stroke-width="0.61" text-anchor="middle">5</text>
<text transform="translate(2561.5 2172.1) scale(1 1.04)" font-size="50.5" stroke-width="0.61" text-anchor="end">0</text>
<text transform="translate(2561.5 2013.1) scale(1 1.04)" font-size="50.5" stroke-width="0.61" text-anchor="end">20</text>
<text transform="translate(2561.5 1854.1) scale(1 1.04)" font-size="50.5" stroke-width="0.61" text-anchor="end">40</text>
<text transform="translate(2561.5 1692.1) scale(1 1.04)" font-size="50.5" stroke-width="0.61" text-anchor="end">60</text>
<text transform="translate(2561.5 1533.1) scale(1 1.04)" font-size="50.5" stroke-width="0.61" text-anchor="end">80</text>
<text transform="translate(2561.5 1374.1) scale(1 1.04)" font-size="50.5" stroke-width="0.61" text-anchor="end">100</text>
<text transform="translate(3056.16 2246.9) scale(1 1.04)" font-size="50.5" stroke-width="0.61">Pull (c</text>
<text transform="translate(3200.25 2219.9) scale(1 1.04)" font-size="32" stroke-width="0.38">fit</text>
<text transform="translate(3198.71 2273.9) scale(1 1.04)" font-size="32" stroke-width="0.38">1</text>
<text transform="translate(3227.93 2246.9) scale(1 1.04)" font-size="50.5" stroke-width="0.61">-c</text>
<text transform="translate(3269.66 2219.9) scale(1 1.04)" font-size="32" stroke-width="0.38">gen</text>
<text transform="translate(3271.01 2264.7) scale(1 1.04)" font-size="32" stroke-width="0.38">1</text>
<text transform="translate(3330.59 2246.9) scale(1 1.04)" font-size="50.5" stroke-width="0.61">)/</text>
<text transform="translate(3362.38 2246.9) scale(1 1.04)" font-size="50.5" stroke-width="0.61">σ</text>
<text transform="translate(3393.57 2246.9) scale(1 1.04)" font-size="50.5" stroke-width="0.61">(c</text>
<text transform="translate(3435.81 2273.9) scale(1 1.04)" font-size="32" stroke-width="0.38">1</text>
<text transform="translate(3450.68 2246.9) scale(1 1.04)" font-size="50.5" stroke-width="0.61">)</text>
<text transform="translate(2620.14 1229.9) scale(1 1.04)" font-size="31.97" stroke-width="0.38">Asymptotically correct approach [Asymptotic(true)]</text>
<path d="M2748 2145H2794M2769 2136V2152M2793 2049H2839M2814 2019V2077M2838 1968H2884M2859 1929V2008M2883 1800H2929M2904 1746V1855M2928 1608H2974M2949 1542V1675M2973 1407H3019M2994 1332V1486M3018 1383H3064M3039 1305V1462M3063 1473H3109M3084 1398V1546M3108 1752H3154M3129 1695V1810M3153 2001H3196M3174 1965V2035M3195 2088H3241M3219 2067V2113" stroke="#000" stroke-width="2" fill="none"/>
<circle cx="2769.5" cy="2145.5" r="12.5"/>
<circle cx="2814.5" cy="2049.5" r="12.5"/>
<circle cx="2859.5" cy="1968.5" r="12.5"/>
<circle cx="2904.5" cy="1800.5" r="12.5"/>
<circle cx="2949.5" cy="1608.5" r="12.5"/>
<circle cx="2994.5" cy="1407.5" r="12.5"/>
<circle cx="3039.5" cy="1383.5" r="12.5"/>
<circle cx="3084.5" cy="1473.5" r="12.5"/>
<circle cx="3129.5" cy="1752.5" r="12.5"/>
<circle cx="3174.5" cy="2001.5" r="12.5"/>
<circle cx="3219.5" cy="2088.5" r="12.5"/>
<polyline points="2571,2151 2580,2151 2589,2151 2598,2151 2607,2151 2616,2151 2625,2151 2634,2151 2643,2151 2652,2151 2661,2151 2670,2151 2679,2151 2688,2151 2697,2151 2706,2151 2715,2151 2724,2148 2733,2148 2742,2145 2751,2142 2760,2139 2769,2136 2778,2130 2787,2124 2796,2115 2805,2106 2814,2094 2823,2079 2832,2061 2841,2043 2850,2019 2859,1992 2868,1959 2877,1926 2886,1887 2895,1848 2904,1803 2913,1758 2922,1710 2931,1659 2940,1611 2949,1566 2958,1521 2967,1479 2976,1443 2985,1410 2994,1386 3003,1368 3012,1356 3021,1356 3030,1359 3039,1374 3048,1395 3057,1422 3066,1455 3075,1494 3084,1539 3093,1584 3102,1632 3111,1680 3120,1728 3129,1776 3138,1821 3147,1863 3156,1905 3165,1941 3174,1974 3183,2004 3192,2028 3201,2052 3210,2070 3219,2085 3228,2100 3237,2112 3246,2121 3255,2127 3264,2133 3273,2139 3282,2142 3291,2145 3300,2148 3309,2148 3318,2148 3327,2151 3336,2151 3345,2151 3354,2151 3363,2151 3372,2151 3381,2151 3390,2151 3399,2151 3408,2151 3417,2151 3426,2151 3435,2151 3444,2151 3453,2151 3462,2151" fill="none" stroke="#f00" stroke-width="2" stroke-linejoin="round" shape-rendering="crispEdges"/>
<rect x="2568.5" y="1263.5" width="897" height="888" fill="none" stroke="#000" stroke-width="1"/>
<path d="M2568.5 2127V2152M2586.5 2139V2152M2604.5 2139V2152M2622.5 2139V2152M2640.5 2139V2152M2658.5 2127V2152M2676.5 2139V2152M2694.5 2139V2152M2712.5 2139V2152M2730.5 2139V2152M2748.5 2127V2152M2766.5 2139V2152M2784.5 2139V2152M2802.5 2139V2152M2820.5 2139V2152M2838.5 2127V2152M2856.5 2139V2152M2874.5 2139V2152M2892.5 2139V2152M2910.5 2139V2152M2928.5 2127V2152M2946.5 2139V2152M2964.5 2139V2152M2982.5 2139V2152M3000.5 2139V2152M3018.5 2127V2152M3036.5 2139V2152M3054.5 2139V2152M3072.5 2139V2152M3090.5 2139V2152M3108.5 2127V2152M3126.5 2139V2152M3144.5 2139V2152M3162.5 2139V2152M3177.5 2139V2152M3195.5 2127V2152M3213.5 2139V2152M3231.5 2139V2152M3249.5 2139V2152M3267.5 2139V2152M3285.5 2127V2152M3303.5 2139V2152M3321.5 2139V2152M3339.5 2139V2152M3357.5 2139V2152M3375.5 2127V2152M3393.5 2139V2152M3411.5 2139V2152M3429.5 2139V2152M3447.5 2139V2152M3465.5 2127V2152" stroke="#000" stroke-width="1" fill="none"/>
<path d="M2568 2151.5H2596M2568 2112.5H2581M2568 2073.5H2581M2568 2031.5H2581M2568 1992.5H2596M2568 1953.5H2581M2568 1911.5H2581M2568 1872.5H2581M2568 1833.5H2596M2568 1791.5H2581M2568 1752.5H2581M2568 1713.5H2581M2568 1671.5H2596M2568 1632.5H2581M2568 1593.5H2581M2568 1551.5H2581M2568 1512.5H2596M2568 1473.5H2581M2568 1431.5H2581M2568 1392.5H2581M2568 1353.5H2596M2568 1311.5H2581M2568 1272.5H2581" stroke="#000" stroke-width="1" fill="none"/>
<rect x="3123.5" y="1251.5" width="405" height="267" fill="#fff" stroke="#000" stroke-width="1"/>
<text transform="translate(3143.11 1289.8) scale(1 1.0)" font-size="27.9" stroke-width="0.33">Mean</text>
<text transform="translate(3510.02 1289.8) scale(1 1.0)" font-size="27.9" stroke-width="0.33" text-anchor="end">−<tspan dx="0.84">0.007962</tspan></text>
<text transform="translate(3144.12 1344) scale(1 1.0)" font-size="27.9" stroke-width="0.33">Std Dev</text>
<text transform="translate(3510.02 1344) scale(1 1.0)" font-size="27.9" stroke-width="0.33" text-anchor="end">0.9665</text>
<text transform="translate(3144.12 1398.1) scale(1 1.0)" font-size="27.9" stroke-width="0.33">Constant</text>
<text transform="translate(3428.12 1398.1) scale(1 1.0)" font-size="27.9" stroke-width="0.33" text-anchor="end">99.67</text>
<text transform="translate(3442.5 1398.1) scale(1 1.0)" font-size="30.69" stroke-width="0.37" text-anchor="middle">±</text>
<text transform="translate(3508.92 1398.1) scale(1 1.0)" font-size="27.9" stroke-width="0.33" text-anchor="end">5.51</text>
<text transform="translate(3143.11 1452.2) scale(1 1.0)" font-size="27.9" stroke-width="0.33">Mean</text>
<text transform="translate(3384.22 1452.2) scale(1 1.0)" font-size="27.9" stroke-width="0.33" text-anchor="end">0.02924</text>
<text transform="translate(3397.4 1452.2) scale(1 1.0)" font-size="30.69" stroke-width="0.37" text-anchor="middle">±</text>
<text transform="translate(3510.02 1452.2) scale(1 1.0)" font-size="27.9" stroke-width="0.33" text-anchor="end">0.04611</text>
<text transform="translate(3144.12 1500.4) scale(1 1.0)" font-size="27.9" stroke-width="0.33">Sigma</text>
<text transform="translate(3395.92 1500.4) scale(1 1.0)" font-size="27.9" stroke-width="0.33" text-anchor="end">0.9956</text>
<text transform="translate(3409.2 1500.4) scale(1 1.0)" font-size="30.69" stroke-width="0.37" text-anchor="middle">±</text>
<text transform="translate(3510.02 1500.4) scale(1 1.0)" font-size="27.9" stroke-width="0.33" text-anchor="end">0.0339</text>
</g>
</svg>
</body></html>
